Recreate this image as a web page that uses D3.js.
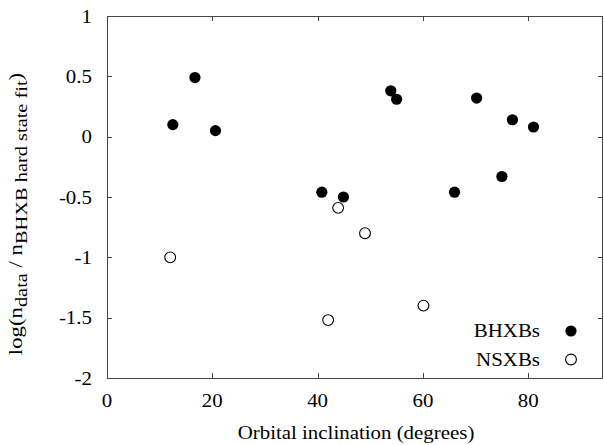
<!DOCTYPE html>
<html><head><meta charset="utf-8">
<script src="https://cdn.jsdelivr.net/npm/d3@7"></script>
<style>body{margin:0;background:#fff}svg{display:block}text{font-family:"Liberation Serif","Times New Roman",serif;fill:#000}</style>
</head><body>
<script>
const bhxbIncl = [12.5, 16.7, 20.6, 40.8, 44.9, 53.9, 55.0, 66.0, 70.2, 75.0, 77.0, 81.0];
const bhxbLog  = [0.10, 0.49, 0.05, -0.46, -0.50, 0.38, 0.31, -0.46, 0.32, -0.33, 0.14, 0.08];
const nsxbIncl = [12.0, 42.0, 43.9, 49.0, 60.1];
const nsxbLog  = [-1.00, -1.52, -0.59, -0.80, -1.40];
const xTicks = [0, 20, 40, 60, 80];
const yTicks = [-2, -1.5, -1, -0.5, 0, 0.5, 1];
const legendLabels = ["BHXBs", "NSXBs"];

const W = 604, H = 445;
const L = 107, R = 603, T = 16, B = 378;
const FS = 19, SX = 1.1;
const svg = d3.select("body").append("svg").attr("width", W).attr("height", H);
const x = d3.scaleLinear().domain([0, 94.2]).range([L, R]);
const y = d3.scaleLinear().domain([-2, 1]).range([B, T]);

function txt(g, px, py, s, anchor, size) {
  return g.append("text").attr("transform", `translate(${px},${py}) scale(${SX},1)`)
    .attr("text-anchor", anchor).attr("font-size", size || FS).text(s);
}

// border
svg.append("rect").attr("x", L + 0.5).attr("y", T + 0.5).attr("width", R - L - 1).attr("height", B - T)
  .attr("fill", "none").attr("stroke", "#444").attr("stroke-width", 1);

const tl = 5;
const g = svg.append("g").attr("stroke", "#444").attr("stroke-width", 1);
xTicks.forEach(v => {
  if (v === 0) return;
  const px = Math.round(x(v)) + 0.5;
  g.append("line").attr("x1", px).attr("x2", px).attr("y1", B).attr("y2", B - tl);
  g.append("line").attr("x1", px).attr("x2", px).attr("y1", T).attr("y2", T + tl);
});
yTicks.forEach(v => {
  if (v === -2 || v === 1) return;
  const py = Math.round(y(v)) + 0.5;
  g.append("line").attr("x1", L).attr("x2", L + tl).attr("y1", py).attr("y2", py);
  g.append("line").attr("x1", R).attr("x2", R - tl).attr("y1", py).attr("y2", py);
});

xTicks.forEach(v => txt(svg, x(v), 407, d3.format("d")(v), "middle"));
yTicks.forEach(v => txt(svg, 92, y(v) + 6.5, String(v), "end"));

txt(svg, (235 + 477) / 2, 439, "Orbital inclination (degrees)", "middle");

// y label
const yl = svg.append("text").attr("transform", `translate(22,214) rotate(-90) scale(1.2,1)`)
  .attr("text-anchor", "middle").attr("font-size", FS);
yl.append("tspan").text("log(n");
yl.append("tspan").attr("font-size", 17).attr("dy", 4.5).text("data");
yl.append("tspan").attr("dy", -4.5).text(" / n");
yl.append("tspan").attr("font-size", 17).attr("dy", 4.5).text("BHXB hard state fit");
yl.append("tspan").attr("dy", -4.5).text(")");

// points
svg.append("g").selectAll("circle").data(bhxbIncl).join("circle")
  .attr("cx", (d) => x(d)).attr("cy", (d, i) => y(bhxbLog[i])).attr("r", 5.6).attr("fill", "#000");
svg.append("g").selectAll("circle").data(nsxbIncl).join("circle")
  .attr("cx", (d) => x(d)).attr("cy", (d, i) => y(nsxbLog[i])).attr("r", 5.4)
  .attr("fill", "#fff").attr("stroke", "#000").attr("stroke-width", 1.1);

// legend
txt(svg, 540, 337, legendLabels[0], "end");
txt(svg, 540, 366, legendLabels[1], "end");
svg.append("circle").attr("cx", 571).attr("cy", 331).attr("r", 5.6).attr("fill", "#000");
svg.append("circle").attr("cx", 571).attr("cy", 359.5).attr("r", 5.4).attr("fill", "#fff").attr("stroke", "#000").attr("stroke-width", 1.1);
</script>
</body></html>
